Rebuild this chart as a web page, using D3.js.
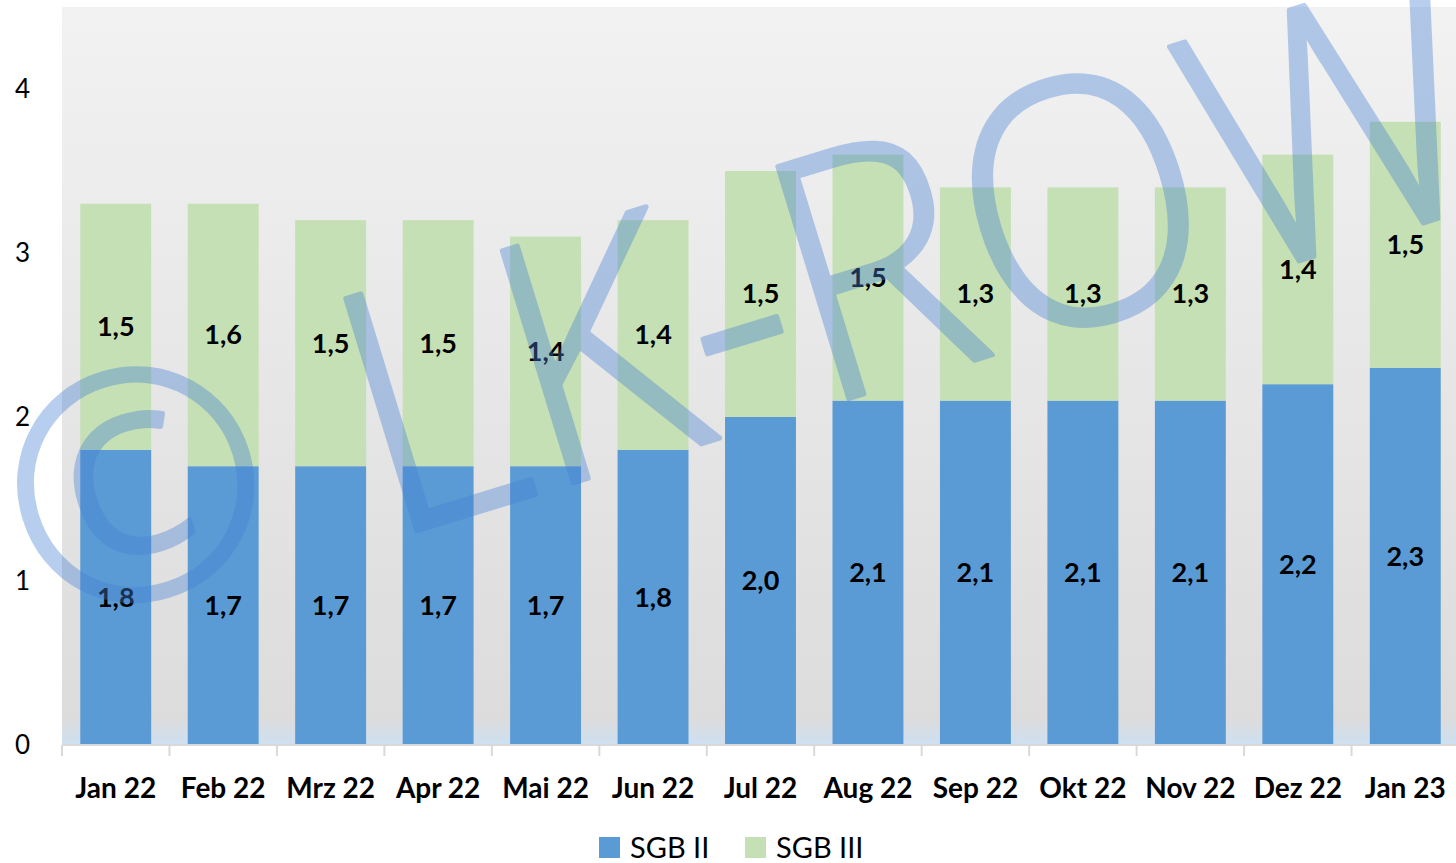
<!DOCTYPE html>
<html>
<head>
<meta charset="utf-8">
<script src="https://cdn.jsdelivr.net/npm/d3@7"></script>
<style>
  body { margin: 0; background: #fff; }
  svg { display: block; font-family: Lato, "Open Sans", sans-serif; }
</style>
</head>
<body>
<svg id="chart"></svg>
<script>
// months and the two series (millions)
const months = ['Jan 22','Feb 22','Mrz 22','Apr 22','Mai 22','Jun 22','Jul 22','Aug 22','Sep 22','Okt 22','Nov 22','Dez 22','Jan 23']
const sgb2 = [1.8, 1.7, 1.7, 1.7, 1.7, 1.8, 2.0, 2.1, 2.1, 2.1, 2.1, 2.2, 2.3]
const sgb3 = [1.5, 1.6, 1.5, 1.5, 1.4, 1.4, 1.5, 1.5, 1.3, 1.3, 1.3, 1.4, 1.5]
const seriesNames = ['SGB II', 'SGB III']
const yTicks = [0, 1, 2, 3, 4]

const W = 1456, H = 863
const margin = {top: 7, right: -3, bottom: 118, left: 62}
const width = W - margin.left - margin.right
const height = H - margin.top - margin.bottom

const svg = d3.select('#chart').attr('width', W).attr('height', H)

// plot background gradient
const defs = svg.append('defs')
const grad = defs.append('linearGradient').attr('id', 'bg')
    .attr('x1', 0).attr('y1', 0).attr('x2', 0).attr('y2', 1)
grad.append('stop').attr('offset', 0).attr('stop-color', '#f2f2f2')
grad.append('stop').attr('offset', 0.965).attr('stop-color', '#dcdcdc')
grad.append('stop').attr('offset', 1).attr('stop-color', '#cde0f2')

const g = svg.append('g').attr('transform', 'translate(' + margin.left + ',' + margin.top + ')')

g.append('rect').attr('width', width).attr('height', height).attr('fill', 'url(#bg)')

const x = d3.scaleBand().domain(months).range([0, width]).paddingInner(0.34).paddingOuter(0.17)
const y = d3.scaleLinear().domain([0, 4.5]).range([height, 0])

const rows = months.map((m, i) => ({month: m, 'SGB II': sgb2[i], 'SGB III': sgb3[i]}))
const stack = d3.stack().keys(seriesNames)(rows)
const colors = {'SGB II': '#5b9bd5', 'SGB III': '#c5e0b4'}

const layers = g.selectAll('.layer').data(stack).enter().append('g')
    .attr('class', 'layer').attr('fill', d => colors[d.key])

layers.selectAll('rect').data(d => d).enter().append('rect')
    .attr('x', d => x(d.data.month))
    .attr('y', d => y(d[1]))
    .attr('width', x.bandwidth())
    .attr('height', d => y(d[0]) - y(d[1]))

// value labels
layers.selectAll('text').data(d => d.map(v => ({v: v, key: d.key}))).enter().append('text')
    .attr('x', d => x(d.v.data.month) + x.bandwidth() / 2)
    .attr('y', d => (y(d.v[0]) + y(d.v[1])) / 2)
    .attr('dy', '0.35em')
    .attr('text-anchor', 'middle')
    .attr('font-size', '27px')
    .attr('font-weight', 'bold')
    .attr('fill', '#000')
    .text(d => d3.format('.1f')(d.v.data[d.key]).replace('.', ','))

// x axis line + ticks between categories
g.append('line').attr('x1', 0).attr('x2', width).attr('y1', height).attr('y2', height)
    .attr('stroke', '#d9d9d9').attr('stroke-width', 2)
const bounds = months.map((m, i) => i * x.step()).concat([width])
g.selectAll('.xtick').data(bounds).enter().append('line')
    .attr('x1', d => d).attr('x2', d => d)
    .attr('y1', height).attr('y2', height + 11)
    .attr('stroke', '#d9d9d9').attr('stroke-width', 2)

g.selectAll('.xlab').data(months).enter().append('text')
    .attr('x', d => x(d) + x.bandwidth() / 2)
    .attr('y', height + 53)
    .attr('text-anchor', 'middle')
    .attr('font-size', '28px')
    .attr('font-weight', 'bold')
    .text(d => d)

g.selectAll('.ylab').data(yTicks).enter().append('text')
    .attr('x', -32)
    .attr('y', d => y(d))
    .attr('dy', '0.35em')
    .attr('text-anchor', 'end')
    .attr('font-size', '26px')
    .text(d => d)

// legend
const legend = svg.append('g').attr('transform', 'translate(599,836)')
const legX = [0, 146]
seriesNames.forEach((s, i) => {
    legend.append('rect').attr('x', legX[i]).attr('y', 1).attr('width', 21).attr('height', 21).attr('fill', colors[s])
    legend.append('text').attr('x', legX[i] + 31).attr('y', 22).attr('font-size', '29px').text(s)
})

// watermark, © and the rest placed separately
const wm = svg.append('g')
    .attr('transform', 'translate(748,305) rotate(-17)')
    .attr('font-family', '"Open Sans", sans-serif')
    .attr('font-weight', 300)
    .attr('font-size', '340px')
    .attr('fill', 'rgb(70,128,212)')
    .attr('stroke', 'rgb(70,128,212)')
    .attr('stroke-width', 5)
    .attr('stroke-linejoin', 'round')
wm.append('text')
    .attr('x', -638).attr('y', -5).attr('dy', '0.35em')
    .attr('font-size', '316px')
    .attr('text-anchor', 'middle')
    .attr('opacity', 0.38)
    .text('©')
wm.append('text')
    .attr('x', -415).attr('y', 0).attr('dy', '0.35em')
    .attr('textLength', 1170)
    .attr('lengthAdjust', 'spacingAndGlyphs')
    .attr('opacity', 0.38)
    .text('LK-ROW')
</script>
</body>
</html>
